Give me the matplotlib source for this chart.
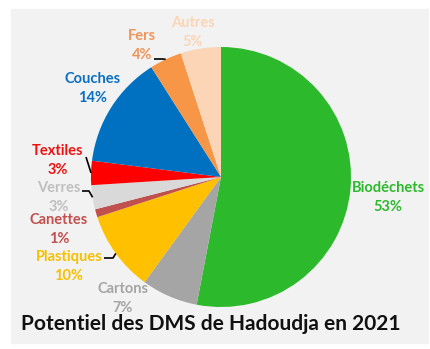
import matplotlib
matplotlib.use("Agg")
from matplotlib import pyplot as plt
from matplotlib.patches import Rectangle
import numpy as np

# waste categories, clockwise from 12 o'clock
categories = ['Biodéchets', 'Cartons', 'Plastiques', 'Canettes', 'Verres',
              'Textiles', 'Couches', 'Fers', 'Autres']
shares = [53, 7, 10, 1, 3, 3, 14, 4, 5]
colors = ['#2cb92c', '#a5a5a5', '#ffc000', '#c0504d', '#d9d9d9',
          '#ff0000', '#0070c0', '#f79646', '#fbd5b5']
label_colors = ['#2cb92c', '#a5a5a5', '#f5c000', '#c0504d', '#bfbfbf',
                '#ee1111', '#0a6fc2', '#f0955a', '#fbd5b5']
title = 'Potentiel des DMS de Hadoudja en 2021'

# name centres in pixel coords (x, y from top); percentage sits below
label_pos = [(388, 188), (123, 289), (69, 257), (59, 220), (59, 188),
             (58, 151), (93, 79), (142, 36), (193, 23)]
# leader lines: start point and elbow (pixel coords), end is on the wedge rim
leaders = {'Plastiques': [(104, 258), (113, 258)],
           'Verres': [(82, 191), (89, 191)],
           'Textiles': [(86, 157)],
           'Fers': [(154, 59), (163, 59)]}

W, H = 430, 349
fig = plt.figure(figsize=(W / 100, H / 100), dpi=100)
ax = fig.add_axes([0, 0, 1, 1])

ax.add_patch(Rectangle((11, H - 343), 417, 334, color='#f2f2f2', zorder=0))

cx, cy, r = 221, H - 177, 130
wedges, _ = ax.pie(shares, colors=colors, startangle=90, counterclock=False,
                   center=(cx, cy), radius=r, frame=True,
                   wedgeprops=dict(linewidth=0))
ax.set_xlim(0, W)
ax.set_ylim(0, H)
ax.axis('off')

for i, name in enumerate(categories):
    lx, ly = label_pos[i]
    ax.text(lx, H - ly, name, ha='center', va='center',
            color=label_colors[i], fontsize=10.5, fontweight='bold', family='Lato')
    ax.text(lx, H - ly - 19, f'{shares[i]}%', ha='center', va='center',
            color=label_colors[i], fontsize=10.5, fontweight='bold', family='Lato')
    if name in leaders:
        w = wedges[i]
        ang = np.deg2rad((w.theta1 + w.theta2) / 2)
        pts = [(px, H - py) for px, py in leaders[name]]
        pts.append((cx + r * np.cos(ang), cy + r * np.sin(ang)))
        xs, ys = zip(*pts)
        ax.plot(xs, ys, color='black', lw=1.2, solid_capstyle='butt')

ax.text(211, H - 324, title, ha='center', va='center', fontsize=15,
        fontweight='bold', family='Lato', color='#111111')

fig.savefig('out.png', dpi=100)
